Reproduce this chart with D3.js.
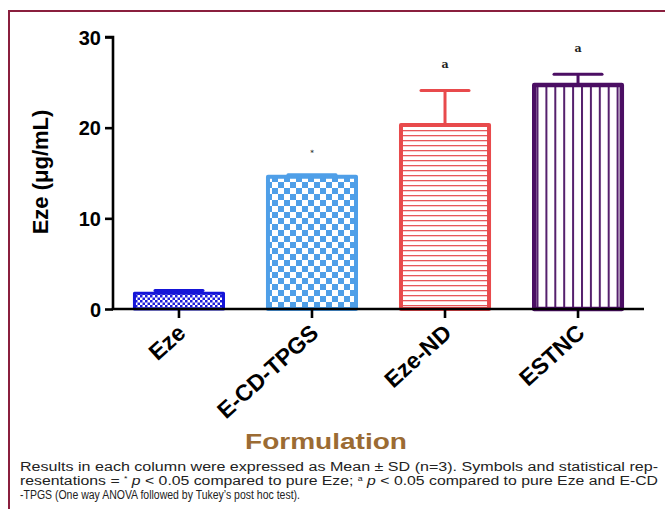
<!DOCTYPE html>
<html>
<head>
<meta charset="utf-8">
<script src="https://cdn.jsdelivr.net/npm/d3@7"></script>
<style>
  html, body { margin: 0; padding: 0; background: #fff; }
  svg { display: block; }
  text { font-family: "Liberation Sans", Arial, Helvetica, sans-serif; }
</style>
</head>
<body>
<svg id="chart" width="665" height="509"></svg>
<script>
// Dissolved Eze concentration per formulation (mean ± SD, n = 3)
const categories = ["Eze", "E-CD-TPGS", "Eze-ND", "ESTNC"];
const means = [1.75, 14.6, 20.3, 24.7];
const sds = [0.3, 0.2, 3.8, 1.2];
const marks = ["", "*", "a", "a"];
const yTicks = [0, 10, 20, 30];
const captionLines = [
  "Results in each column were expressed as Mean \u00b1 SD (n=3). Symbols and statistical rep-",
  "resentations = |*|p| < 0.05 compared to pure Eze; |a|p| < 0.05 compared to pure Eze and E-CD",
  "-TPGS (One way ANOVA followed by Tukey\u2019s post hoc test)."
];

const svg = d3.select("#chart");
const W = 665, H = 509;

// frame lines (top and left)
const frameColor = "#8a1f3e";
svg.append("line").attr("x1", 9).attr("x2", W).attr("y1", 11).attr("y2", 11)
  .attr("stroke", frameColor).attr("stroke-width", 2);
svg.append("line").attr("x1", 9).attr("x2", 9).attr("y1", 10).attr("y2", H)
  .attr("stroke", frameColor).attr("stroke-width", 2);

const x = d3.scaleBand().domain(categories).range([113, 644])
  .paddingInner(0.308).paddingOuter(0.15);
const y = d3.scaleLinear().domain([0, 30]).range([309, 37]);

// fill patterns, one per formulation
const defs = svg.append("defs");
const styles = [
  { id: "pEze", stroke: "#1515d8", sw: 3 },
  { id: "pCD", stroke: "#4f9fe8", sw: 4 },
  { id: "pND", stroke: "#e84a4c", sw: 4 },
  { id: "pST", stroke: "#4b0e63", sw: 4.5 }
];
// fine checkerboard
let p = defs.append("pattern").attr("id", "pEze").attr("patternUnits", "userSpaceOnUse")
  .attr("width", 5).attr("height", 5);
p.append("rect").attr("width", 5).attr("height", 5).attr("fill", "#ffffff");
p.append("rect").attr("width", 2.5).attr("height", 2.5).attr("fill", "#1c1cdc");
p.append("rect").attr("x", 2.5).attr("y", 2.5).attr("width", 2.5).attr("height", 2.5).attr("fill", "#1c1cdc");
// coarse checkerboard
p = defs.append("pattern").attr("id", "pCD").attr("patternUnits", "userSpaceOnUse")
  .attr("width", 12).attr("height", 12).attr("x", 2).attr("y", 2);
p.append("rect").attr("width", 12).attr("height", 12).attr("fill", "#ffffff");
p.append("rect").attr("width", 6).attr("height", 6).attr("fill", "#4f9fe8");
p.append("rect").attr("x", 6).attr("y", 6).attr("width", 6).attr("height", 6).attr("fill", "#4f9fe8");
// horizontal lines
p = defs.append("pattern").attr("id", "pND").attr("patternUnits", "userSpaceOnUse")
  .attr("width", 10).attr("height", 5);
p.append("rect").attr("width", 10).attr("height", 5).attr("fill", "#ffffff");
p.append("rect").attr("y", 0).attr("width", 10).attr("height", 1.3).attr("fill", "#e8575a");
// vertical lines
p = defs.append("pattern").attr("id", "pST").attr("patternUnits", "userSpaceOnUse")
  .attr("width", 8.9).attr("height", 10).attr("x", 536.5);
p.append("rect").attr("width", 8.9).attr("height", 10).attr("fill", "#ffffff");
p.append("rect").attr("x", 0).attr("width", 2).attr("height", 10).attr("fill", "#55206d");

const data = categories.map((c, i) => ({ c, m: means[i], sd: sds[i], mark: marks[i], st: styles[i] }));

// bars
svg.append("g").selectAll("rect").data(data).join("rect")
  .attr("x", d => x(d.c) + d.st.sw / 2)
  .attr("width", d => x.bandwidth() - d.st.sw)
  .attr("y", d => y(d.m))
  .attr("height", d => y(0) - y(d.m))
  .attr("fill", d => `url(#${d.st.id})`)
  .attr("stroke", d => d.st.stroke)
  .attr("stroke-width", d => d.st.sw)
  .attr("stroke-linejoin", "round");

// upper error bars
const eb = svg.append("g").selectAll("g").data(data).join("g");
eb.append("line")
  .attr("x1", d => x(d.c) + x.bandwidth() / 2).attr("x2", d => x(d.c) + x.bandwidth() / 2)
  .attr("y1", d => y(d.m)).attr("y2", d => y(d.m + d.sd))
  .attr("stroke", d => d.st.stroke).attr("stroke-width", 3);
eb.append("line")
  .attr("x1", d => x(d.c) + x.bandwidth() / 2 - 24).attr("x2", d => x(d.c) + x.bandwidth() / 2 + 24)
  .attr("y1", d => y(d.m + d.sd)).attr("y2", d => y(d.m + d.sd))
  .attr("stroke", d => d.st.stroke).attr("stroke-width", 3).attr("stroke-linecap", "round");

// significance marks
svg.append("g").selectAll("text").data(data.filter(d => d.mark)).join("text")
  .attr("x", d => x(d.c) + x.bandwidth() / 2)
  .attr("y", d => y(d.m + d.sd) - (d.mark === "*" ? 20 : 22))
  .attr("text-anchor", "middle")
  .style("font-family", "'DejaVu Serif', serif")
  .attr("font-weight", "bold")
  .attr("font-size", d => d.mark === "*" ? 7 : 11)
  .attr("fill", "#222")
  .text(d => d.mark);

// axes
const yAxis = svg.append("g").attr("transform", "translate(113,0)")
  .call(d3.axisLeft(y).tickValues(yTicks).tickSize(8).tickPadding(4).tickFormat(d3.format("d")));
const xAxis = svg.append("g").attr("transform", "translate(0,309)")
  .call(d3.axisBottom(x).tickSize(9).tickPadding(0));
[yAxis, xAxis].forEach(g => {
  g.select(".domain").attr("stroke", "#000").attr("stroke-width", 2.6);
  g.selectAll(".tick line").attr("stroke", "#000").attr("stroke-width", 2.6);
});
yAxis.select(".domain").attr("d", `M-8,${y(30)}H0V${y(0)}`);
xAxis.select(".domain").attr("d", `M${x.range()[0] - 1.3},0H${x.range()[1]}`);
yAxis.selectAll(".tick text").attr("font-size", 20).attr("font-weight", "bold").attr("fill", "#000")
  .attr("dy", "0.36em");
xAxis.selectAll(".tick text")
  .attr("x", 0).attr("y", 0).attr("dy", 0)
  .attr("text-anchor", "end")
  .attr("transform", "translate(8,26) rotate(-42)")
  .attr("font-size", 23).attr("font-weight", "bold").attr("fill", "#000");

// y-axis title
svg.append("text")
  .attr("transform", "translate(48,172) rotate(-90)")
  .attr("text-anchor", "middle")
  .attr("font-size", 22).attr("font-weight", "bold").attr("fill", "#000")
  .text("Eze (\u03bcg/mL)");

// x-axis title
svg.append("text")
  .attr("x", 245).attr("y", 449)
  .attr("textLength", 162).attr("lengthAdjust", "spacingAndGlyphs")
  .attr("font-size", 22).attr("font-weight", "bold").attr("fill", "#9b6b33")
  .text("Formulation");

// footnote
const cap = svg.append("g");
const capLens = [638, 638, 280];
captionLines.forEach((line, i) => {
  const t = cap.append("text")
    .attr("x", 20).attr("y", 470.5 + i * 14)
    .attr("font-size", 12.5).attr("fill", "#222")
    .attr("textLength", capLens[i]).attr("lengthAdjust", "spacingAndGlyphs");
  // "|" separates plain text, superscript mark and italic p
  const parts = line.split("|");
  if (parts.length === 1) { t.text(line); return; }
  t.append("tspan").text(parts[0]);
  for (let k = 1; k < parts.length; k += 3) {
    t.append("tspan").attr("font-size", 7).attr("dy", -4).text(parts[k]);
    t.append("tspan").attr("font-style", "italic").attr("dy", 4).text(" " + parts[k + 1]);
    t.append("tspan").text(parts[k + 2]);
  }
});
</script>
</body>
</html>
